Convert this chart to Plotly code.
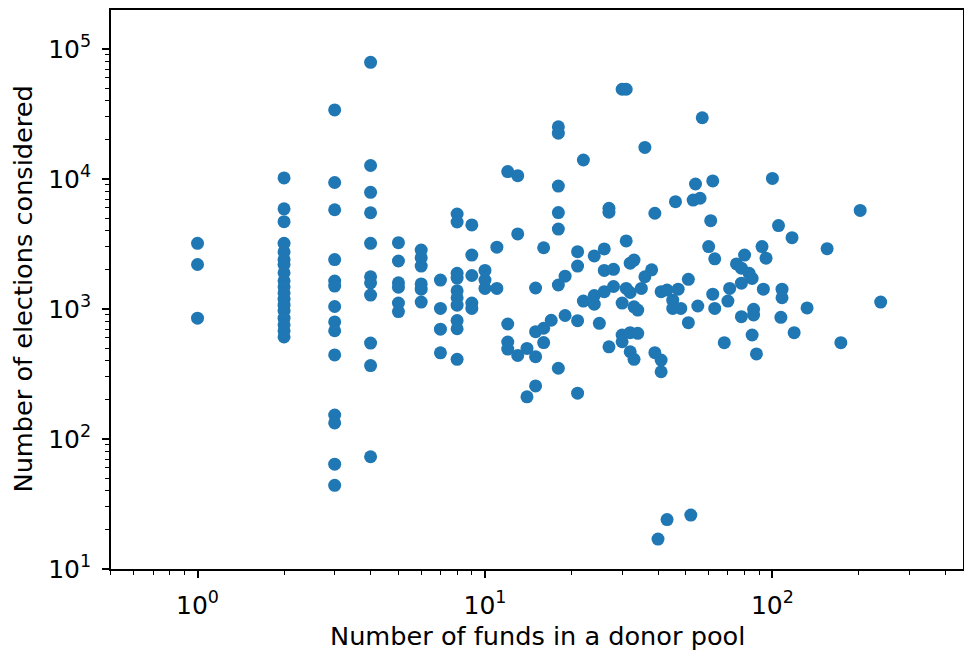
import plotly.graph_objects as go

# Number of funds in a donor pool (x) and the elections observed for pools of that size (y)
pool_sizes = [1, 2, 3, 4, 5, 6, 7, 8, 9, 10, 11, 12, 13, 14, 15, 16, 17, 18, 19,
              21, 22, 24, 25, 26, 27, 28, 30, 31, 32, 33, 34, 35, 36, 38, 39, 40,
              41, 43, 45, 46, 47, 48, 51, 52, 53, 54, 55, 56, 57, 60, 61, 62, 63,
              68, 70, 71, 75, 78, 80, 83, 85, 86, 88, 92, 93, 95, 100, 105, 107,
              108, 117, 119, 132, 155, 173, 202, 238]

elections_by_pool = [
    [3200, 2200, 850],
    [10200, 5900, 4700, 3200, 2750, 2400, 2200, 1900, 1650, 1480, 1330, 1190, 1070, 965, 850, 755, 680, 610],
    [34000, 9400, 5800, 2400, 1640, 1500, 1045, 795, 680, 443, 153, 133, 64, 44],
    [79000, 12700, 7900, 5500, 3200, 1770, 1590, 1280, 547, 367, 73],
    [3240, 2340, 1590, 1470, 1110, 955],
    [2840, 2470, 2140, 1560, 1420, 1130],
    [1670, 1010, 700, 460],
    [5380, 4670, 1880, 1730, 1380, 1220, 1070, 816, 705, 410],
    [4430, 2600, 1810, 1110, 1010],
    [1980, 1670, 1440],
    [2990, 1440],
    [11400, 767, 557, 492],
    [10600, 3780, 439],
    [497, 211],
    [1450, 669, 430, 256],
    [2960, 711, 552],
    [819],
    [25200, 22500, 8830, 5520, 4120, 1530, 350],
    [1790, 891],
    [2760, 2140, 813, 225],
    [14000, 1150],
    [2560, 1270, 1090],
    [776],
    [2900, 1980, 1360],
    [5950, 5550, 512],
    [2020, 1490],
    [49000, 1110, 631, 560],
    [49000, 3340, 1440],
    [2250, 1340, 657, 469],
    [2380, 1040, 410],
    [982, 650],
    [1440],
    [17500, 1770],
    [2000],
    [5450, 461],
    [17],
    [1360, 405, 329],
    [1400, 24],
    [1170, 1010],
    [6690],
    [1420],
    [1010],
    [1690, 785],
    [26],
    [6890],
    [9150],
    [1055],
    [7110],
    [29600],
    [3020],
    [4780],
    [9660, 1300],
    [2430, 1010],
    [551],
    [1150],
    [1440],
    [2220],
    [2060, 1580, 873],
    [2600],
    [1880],
    [1720, 631],
    [995, 899],
    [451],
    [3020],
    [1420],
    [2460],
    [10100],
    [4380],
    [863],
    [1420, 1220],
    [3540],
    [657],
    [1020],
    [2910],
    [551],
    [5730],
    [1130],
]

x_tick_values = [1, 10, 100]
x_tick_labels = ["10<sup>0</sup>", "10<sup>1</sup>", "10<sup>2</sup>"]
y_tick_values = [10, 100, 1000, 10000, 100000]
y_tick_labels = ["10<sup>1</sup>", "10<sup>2</sup>", "10<sup>3</sup>", "10<sup>4</sup>", "10<sup>5</sup>"]

funds = []
elections = []
for n, ys in zip(pool_sizes, elections_by_pool):
    for v in ys:
        funds.append(n)
        elections.append(v)

minor_x = [m * 10 ** e for e in range(-1, 3) for m in range(2, 10)]
minor_y = [m * 10 ** e for e in range(1, 6) for m in range(2, 10)]

FONT = "DejaVu Sans"
fig = go.Figure()
fig.add_trace(go.Scatter(
    x=funds, y=elections, mode="markers",
    marker=dict(size=13, color="#1f77b4", line=dict(width=0)),
    showlegend=False, hoverinfo="x+y",
))

axis_common = dict(
    type="log", showgrid=False, zeroline=False,
    showline=True, linecolor="black", linewidth=1.7, mirror=True,
    ticks="outside", ticklen=7, tickwidth=1.7, tickcolor="black",
    tickfont=dict(family=FONT, size=25, color="black"),
)

fig.update_xaxes(
    **axis_common, range=[-0.301, 2.663],
    tickmode="array", tickvals=x_tick_values, ticktext=x_tick_labels,
    minor=dict(ticks="outside", ticklen=4, tickwidth=1.3, tickcolor="black",
               tickmode="array", tickvals=minor_x),
    ticklabelstandoff=6,
)
fig.update_yaxes(
    **axis_common, range=[1, 5.3],
    tickmode="array", tickvals=y_tick_values, ticktext=y_tick_labels,
    minor=dict(ticks="outside", ticklen=4, tickwidth=1.3, tickcolor="black",
               tickmode="array", tickvals=minor_y),
    ticklabelstandoff=6,
)

fig.add_annotation(text="Number of funds in a donor pool", xref="paper", yref="paper",
                   x=0.5, y=0, yshift=-67, showarrow=False, xanchor="center", yanchor="middle",
                   font=dict(family=FONT, size=25.6, color="black"))
fig.add_annotation(text="Number of elections considered", xref="paper", yref="paper",
                   x=0, y=0.5, xshift=-89, showarrow=False, xanchor="center", yanchor="middle",
                   textangle=-90, font=dict(family=FONT, size=25.6, color="black"))

fig.update_layout(
    width=964, height=651,
    margin=dict(l=111, r=1, t=10, b=82, autoexpand=False),
    paper_bgcolor="white", plot_bgcolor="white",
    font=dict(family=FONT, size=25, color="black"),
)

fig.write_html("out.html")
